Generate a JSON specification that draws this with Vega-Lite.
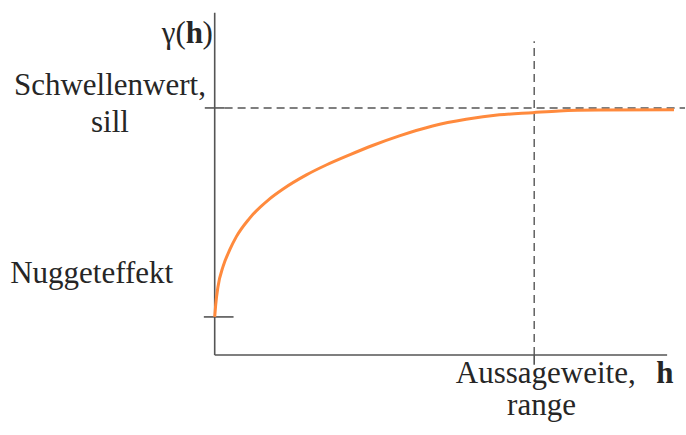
{
  "$schema": "https://vega.github.io/schema/vega-lite/v6.json",
  "width": 686,
  "height": 435,
  "autosize": {"type": "fit", "contains": "padding"},
  "padding": 0,
  "background": "white",
  "config": {"view": {"stroke": null}},
  "datasets": {
    "curve": [
      {"h": 0, "g": 0.154},
      {"h": 0.003, "g": 0.202},
      {"h": 0.0103, "g": 0.2765},
      {"h": 0.026, "g": 0.3575},
      {"h": 0.0469, "g": 0.425},
      {"h": 0.0678, "g": 0.479},
      {"h": 0.109, "g": 0.553},
      {"h": 0.172, "g": 0.632},
      {"h": 0.213, "g": 0.671},
      {"h": 0.287, "g": 0.729},
      {"h": 0.349, "g": 0.769},
      {"h": 0.422, "g": 0.81},
      {"h": 0.494, "g": 0.848},
      {"h": 0.578, "g": 0.887},
      {"h": 0.682, "g": 0.927},
      {"h": 0.787, "g": 0.954},
      {"h": 0.891, "g": 0.972},
      {"h": 0.995, "g": 0.981},
      {"h": 1.078, "g": 0.988},
      {"h": 1.203, "g": 0.992},
      {"h": 1.4375, "g": 0.993}
    ],
    "solid": [
      {"x1": 0, "x2": 0, "y1": 0, "y2": 1.385},
      {"x1": 0, "x2": 1.416, "y1": 0, "y2": 0},
      {"x1": -0.031, "x2": 0.031, "y1": 1, "y2": 1},
      {"x1": 1, "x2": 1, "y1": 0, "y2": -0.04},
      {"x1": -0.034, "x2": 0.059, "y1": 0.154, "y2": 0.154}
    ],
    "dashed": [
      {"x1": 0.031, "x2": 1.472, "y1": 1, "y2": 1},
      {"x1": 1, "x2": 1, "y1": 0, "y2": 1.27}
    ],
    "labels": [
      {"label": "Schwellenwert,", "h": -0.328, "g": 1.0526, "grp": "center"},
      {"label": "sill", "h": -0.328, "g": 0.904, "grp": "center"},
      {"label": "Nuggeteffekt", "h": -0.385, "g": 0.293, "grp": "center"},
      {"label": "Aussageweite,", "h": 1.036, "g": -0.1134, "grp": "center"},
      {"label": "range", "h": 1.023, "g": -0.243, "grp": "center"},
      {"label": "γ(", "h": -0.0906, "g": 1.263, "grp": "right"},
      {"label": ")", "h": -0.0384, "g": 1.263, "grp": "left"},
      {"label": "h", "h": -0.0906, "g": 1.263, "grp": "boldleft"},
      {"label": "h", "h": 1.409, "g": -0.1134, "grp": "boldcenter"}
    ]
  },
  "resolve": {"scale": {"x": "shared", "y": "shared"}},
  "layer": [
    {
      "data": {"name": "solid"},
      "mark": {"type": "rule", "color": "#555555", "strokeWidth": 1.6},
      "encoding": {
        "x": {"field": "x1", "type": "quantitative", "scale": {"domain": [-0.672, 1.472], "nice": false, "zero": false}, "axis": null},
        "x2": {"field": "x2"},
        "y": {"field": "y1", "type": "quantitative", "scale": {"domain": [-0.324, 1.437], "nice": false, "zero": false}, "axis": null},
        "y2": {"field": "y2"}
      }
    },
    {
      "data": {"name": "dashed"},
      "mark": {"type": "rule", "color": "#555555", "strokeWidth": 1.4, "strokeDash": [8, 5]},
      "encoding": {
        "x": {"field": "x1", "type": "quantitative"},
        "x2": {"field": "x2"},
        "y": {"field": "y1", "type": "quantitative"},
        "y2": {"field": "y2"}
      }
    },
    {
      "data": {"name": "curve"},
      "mark": {"type": "line", "color": "#ff8a3d", "strokeWidth": 3, "interpolate": "monotone"},
      "encoding": {
        "x": {"field": "h", "type": "quantitative"},
        "y": {"field": "g", "type": "quantitative"}
      }
    },
    {
      "data": {"name": "labels"},
      "transform": [{"filter": "datum.grp === 'center'"}],
      "mark": {"type": "text", "font": "Liberation Serif", "fontSize": 31, "color": "#262626", "align": "center", "baseline": "alphabetic"},
      "encoding": {
        "x": {"field": "h", "type": "quantitative"},
        "y": {"field": "g", "type": "quantitative"},
        "text": {"field": "label"}
      }
    },
    {
      "data": {"name": "labels"},
      "transform": [{"filter": "datum.grp === 'right'"}],
      "mark": {"type": "text", "font": "Liberation Serif", "fontSize": 31, "color": "#262626", "align": "right", "baseline": "alphabetic"},
      "encoding": {
        "x": {"field": "h", "type": "quantitative"},
        "y": {"field": "g", "type": "quantitative"},
        "text": {"field": "label"}
      }
    },
    {
      "data": {"name": "labels"},
      "transform": [{"filter": "datum.grp === 'left'"}],
      "mark": {"type": "text", "font": "Liberation Serif", "fontSize": 31, "color": "#262626", "align": "left", "baseline": "alphabetic"},
      "encoding": {
        "x": {"field": "h", "type": "quantitative"},
        "y": {"field": "g", "type": "quantitative"},
        "text": {"field": "label"}
      }
    },
    {
      "data": {"name": "labels"},
      "transform": [{"filter": "datum.grp === 'boldleft'"}],
      "mark": {"type": "text", "font": "Liberation Serif", "fontSize": 31, "fontWeight": "bold", "color": "#262626", "align": "left", "baseline": "alphabetic"},
      "encoding": {
        "x": {"field": "h", "type": "quantitative"},
        "y": {"field": "g", "type": "quantitative"},
        "text": {"field": "label"}
      }
    },
    {
      "data": {"name": "labels"},
      "transform": [{"filter": "datum.grp === 'boldcenter'"}],
      "mark": {"type": "text", "font": "Liberation Serif", "fontSize": 31, "fontWeight": "bold", "color": "#262626", "align": "center", "baseline": "alphabetic"},
      "encoding": {
        "x": {"field": "h", "type": "quantitative"},
        "y": {"field": "g", "type": "quantitative"},
        "text": {"field": "label"}
      }
    }
  ]
}
